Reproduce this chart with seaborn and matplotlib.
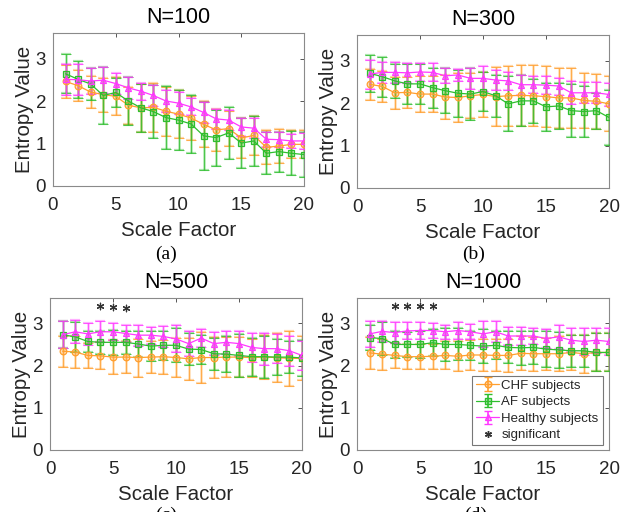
import numpy as np
import pandas as pd
import matplotlib
matplotlib.use("Agg")
import matplotlib.pyplot as plt
import seaborn as sns

# ---------------- data ----------------
scale = list(range(1, 21))
groups = ["CHF subjects", "AF subjects", "Healthy subjects"]
titles = ["N=100", "N=300", "N=500", "N=1000"]
panel_tags = ["(a)", "(b)", "(c)", "(d)"]

chf_100 = [2.46, 2.36, 2.21, 2.15, 2.11, 1.90, 1.84, 1.85, 1.76, 1.69, 1.60, 1.45, 1.32, 1.35, 1.13, 1.19, 0.91, 0.94, 0.98, 0.98]
af_100 = [2.64, 2.51, 2.40, 2.13, 2.20, 2.00, 1.84, 1.75, 1.61, 1.55, 1.46, 1.18, 1.14, 1.25, 1.01, 1.06, 0.77, 0.81, 0.77, 0.74]
hl_100 = [2.51, 2.50, 2.47, 2.49, 2.41, 2.31, 2.23, 2.13, 2.00, 1.95, 1.86, 1.73, 1.58, 1.55, 1.39, 1.36, 1.10, 1.09, 1.06, 1.06]
chf_100_sd = [0.38, 0.36, 0.38, 0.40, 0.45, 0.44, 0.56, 0.57, 0.58, 0.56, 0.52, 0.54, 0.50, 0.42, 0.48, 0.45, 0.40, 0.40, 0.33, 0.33]
af_100_sd = [0.46, 0.43, 0.37, 0.68, 0.35, 0.57, 0.56, 0.63, 0.74, 0.70, 0.68, 0.80, 0.66, 0.61, 0.58, 0.58, 0.49, 0.47, 0.52, 0.53]
hl_100_sd = [0.36, 0.37, 0.30, 0.30, 0.24, 0.26, 0.20, 0.24, 0.26, 0.25, 0.20, 0.25, 0.24, 0.24, 0.21, 0.24, 0.18, 0.18, 0.17, 0.18]

chf_300 = [2.44, 2.39, 2.24, 2.25, 2.21, 2.21, 2.14, 2.13, 2.17, 2.20, 2.15, 2.17, 2.18, 2.17, 2.15, 2.12, 2.12, 2.06, 2.04, 1.98]
af_300 = [2.70, 2.62, 2.52, 2.45, 2.45, 2.36, 2.29, 2.23, 2.21, 2.27, 2.17, 1.98, 2.05, 2.05, 1.91, 1.93, 1.82, 1.80, 1.82, 1.66]
hl_300 = [2.68, 2.72, 2.72, 2.71, 2.73, 2.72, 2.64, 2.66, 2.58, 2.58, 2.54, 2.52, 2.43, 2.43, 2.42, 2.40, 2.24, 2.24, 2.24, 2.20]
chf_300_sd = [0.37, 0.37, 0.38, 0.36, 0.42, 0.43, 0.52, 0.57, 0.53, 0.52, 0.70, 0.70, 0.71, 0.72, 0.71, 0.71, 0.71, 0.64, 0.64, 0.65]
af_300_sd = [0.43, 0.47, 0.40, 0.47, 0.47, 0.47, 0.53, 0.55, 0.62, 0.45, 0.50, 0.65, 0.60, 0.52, 0.57, 0.55, 0.62, 0.60, 0.42, 0.64]
hl_300_sd = [0.34, 0.24, 0.25, 0.24, 0.22, 0.21, 0.18, 0.15, 0.24, 0.30, 0.24, 0.22, 0.24, 0.20, 0.21, 0.20, 0.27, 0.25, 0.25, 0.28]

chf_500 = [2.34, 2.32, 2.24, 2.23, 2.20, 2.20, 2.19, 2.20, 2.21, 2.19, 2.16, 2.19, 2.19, 2.20, 2.20, 2.19, 2.20, 2.19, 2.17, 2.17]
af_500 = [2.73, 2.68, 2.57, 2.55, 2.55, 2.55, 2.51, 2.46, 2.48, 2.48, 2.39, 2.38, 2.28, 2.27, 2.24, 2.21, 2.21, 2.20, 2.20, 2.18]
hl_500 = [2.73, 2.80, 2.75, 2.80, 2.80, 2.76, 2.72, 2.72, 2.69, 2.63, 2.52, 2.65, 2.52, 2.55, 2.52, 2.43, 2.40, 2.40, 2.35, 2.24]
chf_500_sd = [0.37, 0.37, 0.30, 0.32, 0.40, 0.38, 0.45, 0.37, 0.40, 0.46, 0.50, 0.60, 0.48, 0.48, 0.48, 0.45, 0.52, 0.58, 0.66, 0.52]
af_500_sd = [0.32, 0.35, 0.26, 0.27, 0.30, 0.28, 0.30, 0.35, 0.35, 0.40, 0.38, 0.35, 0.38, 0.42, 0.50, 0.45, 0.50, 0.42, 0.38, 0.42]
hl_500_sd = [0.32, 0.27, 0.26, 0.25, 0.20, 0.20, 0.25, 0.20, 0.25, 0.32, 0.30, 0.22, 0.27, 0.27, 0.30, 0.35, 0.38, 0.35, 0.35, 0.35]

chf_1000 = [2.30, 2.27, 2.24, 2.21, 2.21, 2.22, 2.24, 2.22, 2.25, 2.25, 2.24, 2.24, 2.29, 2.28, 2.28, 2.28, 2.31, 2.28, 2.31, 2.31]
af_1000 = [2.66, 2.64, 2.50, 2.50, 2.50, 2.54, 2.50, 2.50, 2.48, 2.46, 2.48, 2.43, 2.42, 2.43, 2.39, 2.37, 2.35, 2.35, 2.31, 2.31]
hl_1000 = [2.75, 2.81, 2.78, 2.82, 2.83, 2.83, 2.80, 2.83, 2.80, 2.75, 2.80, 2.70, 2.70, 2.70, 2.64, 2.68, 2.60, 2.57, 2.60, 2.57]
chf_1000_sd = [0.37, 0.37, 0.30, 0.30, 0.30, 0.30, 0.33, 0.35, 0.35, 0.38, 0.38, 0.40, 0.40, 0.40, 0.38, 0.42, 0.42, 0.45, 0.45, 0.45]
af_1000_sd = [0.30, 0.40, 0.33, 0.30, 0.33, 0.32, 0.40, 0.38, 0.35, 0.40, 0.33, 0.38, 0.40, 0.40, 0.42, 0.42, 0.38, 0.38, 0.45, 0.45]
hl_1000_sd = [0.30, 0.25, 0.25, 0.20, 0.20, 0.17, 0.17, 0.20, 0.18, 0.30, 0.25, 0.22, 0.22, 0.20, 0.22, 0.28, 0.28, 0.33, 0.30, 0.33]

sig_x_500 = [4, 5, 6]
sig_y_500 = [3.42, 3.38, 3.36]
sig_x_1000 = [3, 4, 5, 6]
sig_y_1000 = [3.41, 3.41, 3.41, 3.41]

panels = [
    (chf_100, af_100, hl_100, chf_100_sd, af_100_sd, hl_100_sd, [], []),
    (chf_300, af_300, hl_300, chf_300_sd, af_300_sd, hl_300_sd, [], []),
    (chf_500, af_500, hl_500, chf_500_sd, af_500_sd, hl_500_sd, sig_x_500, sig_y_500),
    (chf_1000, af_1000, hl_1000, chf_1000_sd, af_1000_sd, hl_1000_sd, sig_x_1000, sig_y_1000),
]

# ---------------- style ----------------
sns.set_theme(style="white")
plt.rcParams['font.family'] = ['Liberation Sans', 'DejaVu Sans']

colors = ["#FF9F2E", "#2EBE2E", "#FF38FF"]
markers = ["o", "s", "^"]
star_marker = (6, 2, 0)

fig = plt.figure(figsize=(6.34, 5.12), dpi=100)
W, H = 634.0, 512.0
boxes = [(53, 33, 304, 186), (357, 35, 609, 188), (50, 298, 302, 450), (357, 298, 609, 450)]
tag_pos = [(166, 254), (474, 254), (166, 515), (476, 515)]

for i, (box, pdata) in enumerate(zip(boxes, panels)):
    l, t, r, b = box
    ax = fig.add_axes([l / W, 1 - b / H, (r - l) / W, (b - t) / H])
    means = pdata[:3]
    sds = pdata[3:6]
    sx, sy = pdata[6], pdata[7]
    for g, (m, sd, c, mk) in enumerate(zip(means, sds, colors, markers)):
        ax.errorbar(scale, m, yerr=sd, fmt="none", ecolor=c, elinewidth=1.8,
                    alpha=0.4, capsize=3.5, capthick=1.6, zorder=2 + g)
        ax.errorbar(scale, m, yerr=sd, fmt="none", ecolor=c, elinewidth=0.6,
                    alpha=0.9, capsize=3.5, capthick=0.6, zorder=2 + g)
        df = pd.DataFrame({"x": scale, "y": m})
        sns.lineplot(data=df, x="x", y="y", ax=ax, color=c, marker=mk,
                     markersize=4.8, markeredgecolor=c, markeredgewidth=0.9,
                     markerfacecolor=matplotlib.colors.to_rgba(c, 0.35),
                     linewidth=0.9, zorder=5 + g)
    if sx:
        sns.scatterplot(x=sx, y=sy, ax=ax, marker=star_marker, s=22,
                        color="#333333", linewidth=0.9, zorder=9)

    ax.set_xlim(0, 20)
    ax.set_ylim(0, 3.6)
    ax.set_xticks([0, 5, 10, 15, 20])
    ax.set_yticks([0, 1, 2, 3])
    ax.tick_params(direction="in", length=3, width=0.7, color="#555555",
                   labelsize=13.5, labelcolor="#262626", top=True, right=True)
    ax.tick_params(axis="x", pad=8)
    ax.tick_params(axis="y", pad=5)
    for s in ax.spines.values():
        s.set_color("#8a8a8a")
        s.set_linewidth(0.8)
    ax.set_xlabel("Scale Factor", fontsize=14.8, color="#262626", labelpad=5)
    ax.set_ylabel("Entropy Value", fontsize=14.8, color="#262626", labelpad=1)
    ax.set_title(titles[i], fontsize=15.5, color="#000000", pad=7)

    if i == 3:
        handles = []
        for c, mk, lab in zip(colors, markers, groups):
            h = ax.errorbar([np.nan], [np.nan], yerr=[np.nan], fmt="-" + mk,
                            color=c, markersize=4.8, markeredgecolor=c,
                            markerfacecolor=matplotlib.colors.to_rgba(c, 0.35),
                            linewidth=0.9, elinewidth=1.2, capsize=3, label=lab)
            handles.append(h)
        hs, = ax.plot([np.nan], [np.nan], linestyle="none", marker=star_marker,
                      markersize=5, color="#333333", label="significant")
        handles.append(hs)
        leg = ax.legend(handles=handles, labels=groups + ["significant"],
                        loc="lower right", bbox_to_anchor=(0.975, 0.03),
                        borderaxespad=0, fontsize=9.5, frameon=True, fancybox=False,
                        handlelength=1.7, handletextpad=0.2, labelspacing=0.33,
                        borderpad=0.3)
        leg.get_frame().set_edgecolor("#555555")
        leg.get_frame().set_linewidth(0.8)
        for txt in leg.get_texts():
            txt.set_color("#262626")

for tag, (tx, ty) in zip(panel_tags, tag_pos):
    fig.text(tx / W, 1 - ty / H, tag, ha="center", va="center",
             fontsize=14, family=["Liberation Serif", "DejaVu Serif"], color="#000000")

fig.savefig("out.png", dpi=100)
